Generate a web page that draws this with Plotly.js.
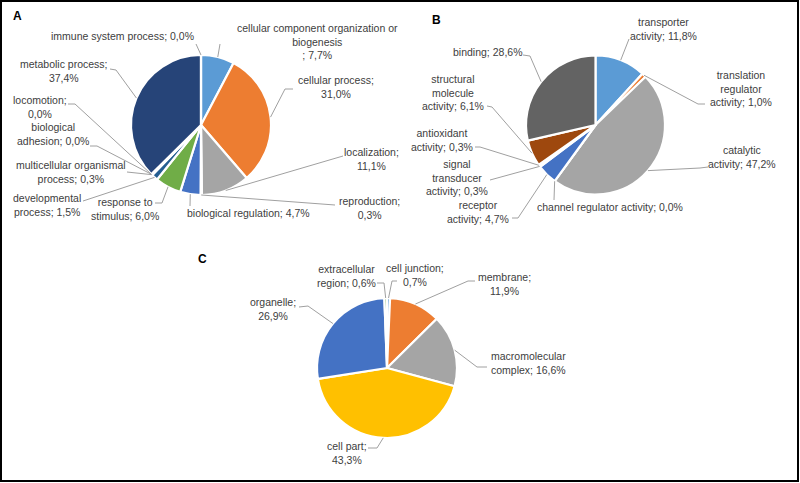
<!DOCTYPE html>
<html>
<head>
<meta charset="utf-8">
<script src="https://cdn.plot.ly/plotly-3.0.1.min.js"></script>
<style>html,body{margin:0;padding:0;background:#fff;}#chart{width:800px;height:483px;}</style>
</head>
<body>
<div id="chart"></div>
<script>
// ---------- DATA ----------
const labelsA = ["cellular component organization or<br>biogenesis<br>; 7,7%", "cellular process;<br>31,0%", "localization;<br>11,1%", "reproduction;<br>0,3%", "biological regulation; 4,7%", "response to<br>stimulus; 6,0%", "developmental<br>process; 1,5%", "multicellular organismal<br>process; 0,3%", "biological<br>adhesion; 0,0%", "locomotion;<br>0,0%", "metabolic process;<br>37,4%", "immune system process; 0,0%"];
const valuesA = [7.7, 31.0, 11.1, 0.3, 4.7, 6.0, 1.5, 0.3, 0.0, 0.0, 37.4, 0.0];

const labelsB = ["transporter<br>activity; 11,8%", "translation<br>regulator<br>activity; 1,0%", "catalytic<br>activity; 47,2%", "channel regulator activity; 0,0%", "receptor<br>activity; 4,7%", "signal<br>transducer<br>activity; 0,3%", "antioxidant<br>activity; 0,3%", "structural<br>molecule<br>activity; 6,1%", "binding; 28,6%"];
const valuesB = [11.8, 1.0, 47.2, 0.0, 4.7, 0.3, 0.3, 6.1, 28.6];

const labelsC = ["cell junction;<br>0,7%", "membrane;<br>11,9%", "macromolecular<br>complex; 16,6%", "cell part;<br>43,3%", "organelle;<br>26,9%", "extracellular<br>region; 0,6%"];
const valuesC = [0.7, 11.9, 16.6, 43.3, 26.9, 0.6];

const panelLetters = ["A", "B", "C"];

// ---------- STYLE / LAYOUT ----------
const W = 800, H = 483;
const palette = ["#5B9BD5", "#ED7D31", "#A5A5A5", "#FFC000", "#4472C4", "#70AD47", "#255E91", "#9E480E", "#636363", "#997300", "#264478", "#43682B"];
const pies = [
  {cx: 201, cy: 125, r: 70, letter: [17, 16],
   // label centre [x,y], leader start [x,y], optional kink [x,y]
   lab: [[317,41],[336,87],[371,159],[369,208],[248,213],[125,209],[47,205],[71,172],[53,134],[40,107],[64,71],[122,36]],
   st:  [[220,44],[293,89],[343,156],[335,205],[190,206],[155,203],[83,201],[127,172],[90,146],[68,104],[110,69],[196,44]],
   kn:  [null,[285,89],null,null,null,[162,203],null,null,[97,146],[75,104],[116,70],null]},
  {cx: 595.5, cy: 125, r: 69.5, letter: [436, 20],
   lab: [[663,29],[741,89],[742,157],[610,207],[478,212],[457,177],[442,140],[453,92],[487,52]],
   st:  [[629,39],[705,104],[708,167],[554,200],[512,218],[490,180],[475,147],[487,106],[523,55]],
   kn:  [null,[698,104],[700,168],null,[518,218],null,[480,147],[492,107],[530,56]]},
  {cx: 387, cy: 368, r: 70, letter: [203, 259],
   lab: [[415,275],[504,284],[528,363],[347,453],[273,309],[346,276]],
   st:  [[397,281],[475,281],[487,367],[368,448],[299,307],[377,283]],
   kn:  [[392,281],[468,281],[477,367],[377,448],[308,306],[384,283]]}
];
const px = x => x / W;
const py = y => 1 - y / H;

const series = [[labelsA, valuesA], [labelsB, valuesB], [labelsC, valuesC]];
const traces = [];
const annotations = [];
const shapes = [];
const font = {family: "Liberation Sans, Arial, sans-serif", size: 10.5, color: "#404040"};

series.forEach(([labs, vals], i) => {
  const p = pies[i];
  traces.push({
    type: "pie", labels: labs.map((l, k) => "s" + i + "_" + k), values: vals,
    sort: false, direction: "clockwise", rotation: 0,
    textinfo: "none", hoverinfo: "skip", showlegend: false,
    marker: {colors: palette.slice(0, vals.length), line: {color: "#ffffff", width: 2.2}},
    domain: {x: [px(p.cx - p.r), px(p.cx + p.r)], y: [py(p.cy + p.r), py(p.cy - p.r)]}
  });
  const total = vals.reduce((a, b) => a + b, 0);
  let cum = 0;
  vals.forEach((v, k) => {
    const th = 2 * Math.PI * (cum + v / 2) / total;
    cum += v;
    const ex = p.cx + p.r * Math.sin(th), ey = p.cy - p.r * Math.cos(th);
    const s = p.st[k], kn = p.kn[k];
    let path = "M" + px(s[0]) + "," + py(s[1]);
    if (kn) path += " L" + px(kn[0]) + "," + py(kn[1]);
    path += " L" + px(ex) + "," + py(ey);
    shapes.push({type: "path", xref: "paper", yref: "paper", path: path, line: {color: "#A0A0A0", width: 1}});
    annotations.push({xref: "paper", yref: "paper", x: px(p.lab[k][0]), y: py(p.lab[k][1]),
      xanchor: "center", yanchor: "middle", align: "center", showarrow: false, text: labs[k], font: font});
  });
  annotations.push({xref: "paper", yref: "paper", x: px(p.letter[0]), y: py(p.letter[1]),
    xanchor: "center", yanchor: "middle", showarrow: false, text: "<b>" + panelLetters[i] + "</b>",
    font: {family: "Liberation Sans, Arial, sans-serif", size: 12, color: "#000"}});
});

shapes.push({type: "rect", xref: "paper", yref: "paper", x0: px(1), x1: px(798), y0: py(481), y1: py(1),
  line: {color: "#000", width: 2}});

Plotly.newPlot("chart", traces, {
  width: W, height: H, margin: {l: 0, r: 0, t: 0, b: 0},
  paper_bgcolor: "#fff", plot_bgcolor: "#fff",
  shapes: shapes, annotations: annotations
}, {staticPlot: true});
</script>
</body>
</html>
